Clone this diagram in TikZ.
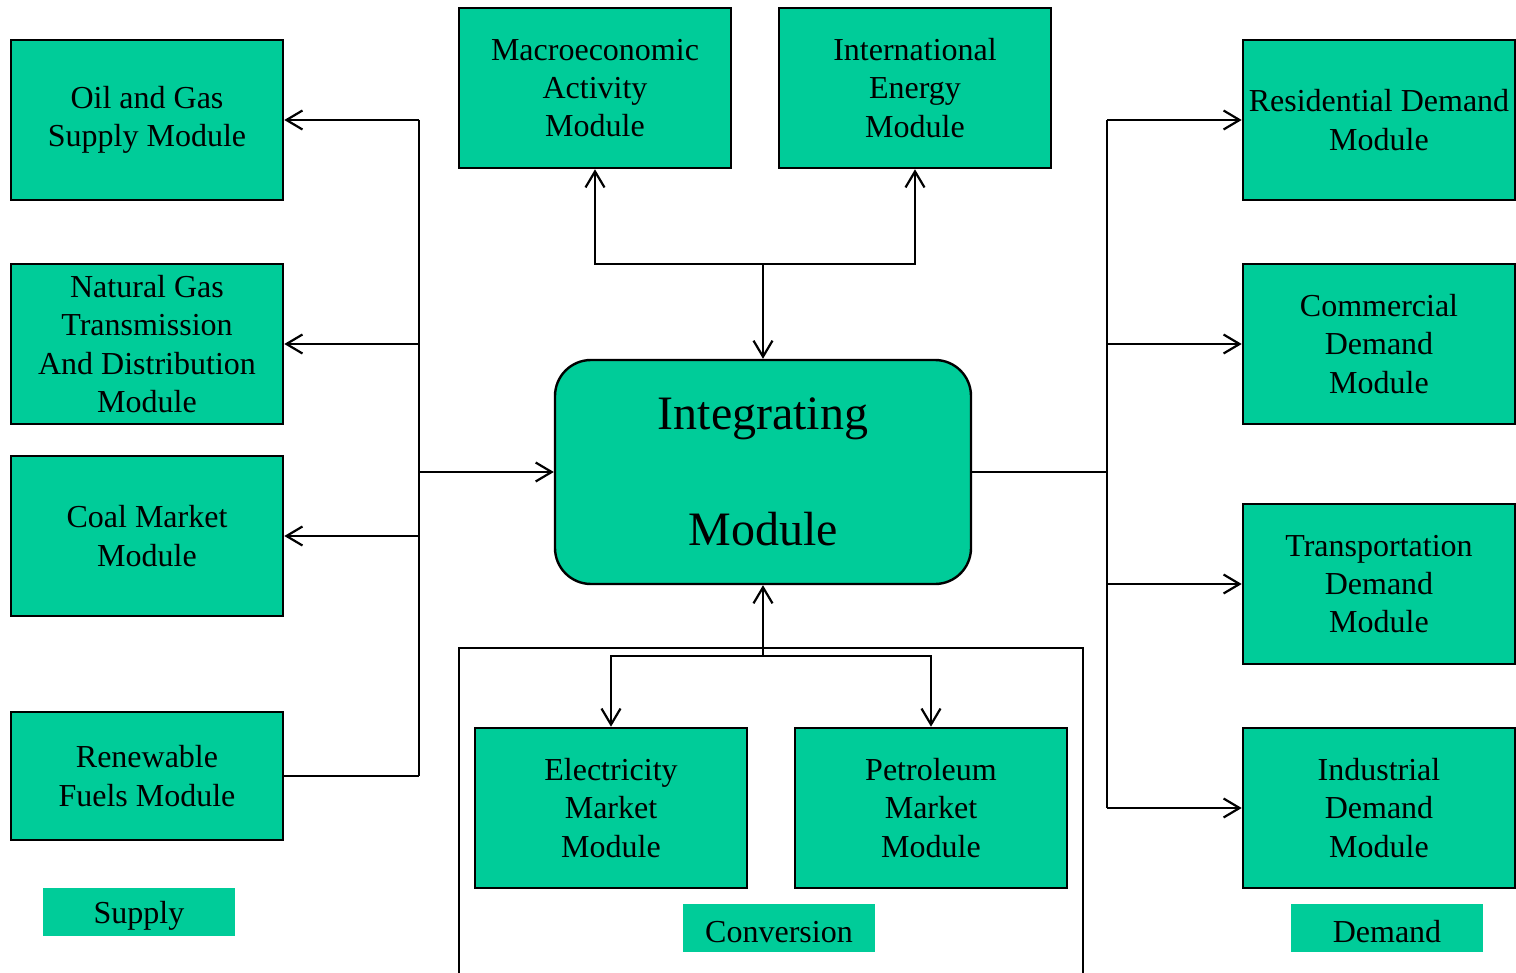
\documentclass[tikz,border=0pt]{standalone}
\usepackage{fontspec}
\setmainfont{Liberation Serif}
\usetikzlibrary{arrows.meta}
\definecolor{modgreen}{HTML}{00CC99}
\begin{document}
\begin{tikzpicture}[x=0.5pt,y=-0.5pt,
  modbox/.style={draw=black,line width=1.3pt,fill=modgreen,minimum width=136pt,minimum height=80pt,inner sep=0pt,align=center,font=\fontsize{16}{19.2}\selectfont,execute at begin node={\rule{0pt}{14.5pt}}},
  tagbox/.style={fill=modgreen,minimum width=96pt,minimum height=24pt,inner sep=0pt,font=\fontsize{16}{19.2}\selectfont,execute at begin node={\rule{0pt}{14.5pt}}},
  conn/.style={line width=1.2pt},
  arr/.style={conn,-{Straight Barb[length=8pt,width=9.5pt,line width=1.1pt]}}]
\useasboundingbox (0,0) rectangle (1516,973);
% conversion frame
\draw[line width=1.1pt] (459,975) -- (459,648) -- (1083,648) -- (1083,975);
% supply
\node[modbox] (oil) at (147,120) {Oil and Gas\\Supply Module};
\node[modbox] (ngas) at (147,344) {Natural Gas\\Transmission\\And Distribution\\Module};
\node[modbox] (coal) at (147,536) {Coal Market\\Module};
\node[modbox,minimum height=64pt] (ren) at (147,776) {Renewable\\Fuels Module};
\node[tagbox] (sup) at (139,912) {Supply};
% top
\node[modbox] (macro) at (595,88) {Macroeconomic\\Activity\\Module};
\node[modbox] (intl) at (915,88) {International\\Energy\\Module};
% integrating
\node[draw=black,line width=1.2pt,fill=modgreen,rounded corners=18pt,minimum width=208pt,minimum height=112pt,inner sep=0pt,align=center,font=\fontsize{24}{30}\selectfont] (int) at (763,472) {Integrating\\[28pt]Module};
% conversion
\node[modbox] (elec) at (611,808) {Electricity\\Market\\Module};
\node[modbox] (pet) at (931,808) {Petroleum\\Market\\Module};
\node[tagbox] (conv) at (779,928) {Conversion};
% demand
\node[modbox] (res) at (1379,120) {Residential Demand\\Module};
\node[modbox] (com) at (1379,344) {Commercial\\Demand\\Module};
\node[modbox] (tra) at (1379,584) {Transportation\\Demand\\Module};
\node[modbox] (ind) at (1379,808) {Industrial\\Demand\\Module};
\node[tagbox] (dem) at (1387,928) {Demand};
% bus coordinates
\coordinate (lb1) at (419,120);
\coordinate (lb2) at (419,344);
\coordinate (lb3) at (419,536);
\coordinate (lb4) at (419,776);
\coordinate (lbm) at (419,472);
\coordinate (rb1) at (1107,120);
\coordinate (rb2) at (1107,344);
\coordinate (rb3) at (1107,584);
\coordinate (rb4) at (1107,808);
\coordinate (rbm) at (1107,472);
\coordinate (tj) at (763,264);
\coordinate (bj) at (763,656);
% left
\draw[conn] (lb1) -- (lb4);
\draw[arr] (lb1) -- (oil.east);
\draw[arr] (lb2) -- (ngas.east);
\draw[arr] (lb3) -- (coal.east);
\draw[conn] (ren.east) -- (lb4);
\draw[arr] (lbm) -- (int.west);
% top
\draw[arr] (tj) -- (int.north);
\draw[arr] (tj) -| (macro.south);
\draw[arr] (tj) -| (intl.south);
% bottom
\draw[arr] (bj) -- (int.south);
\draw[arr] (bj) -| (elec.north);
\draw[arr] (bj) -| (pet.north);
% right
\draw[conn] (int.east) -- (rbm);
\draw[conn] (rb1) -- (rb4);
\draw[arr] (rb1) -- (res.west);
\draw[arr] (rb2) -- (com.west);
\draw[arr] (rb3) -- (tra.west);
\draw[arr] (rb4) -- (ind.west);
\end{tikzpicture}
\end{document}
